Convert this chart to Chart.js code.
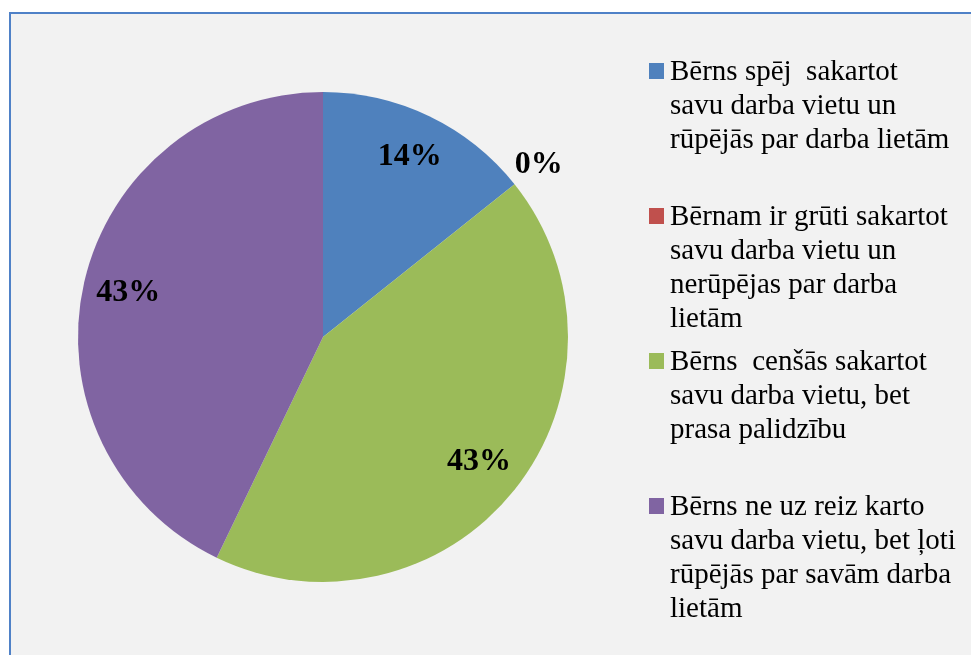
<!DOCTYPE html>
<html lang="lv">
<head>
<meta charset="UTF-8">
<title>Darba vietas sakārtošana</title>
<script src="https://cdn.jsdelivr.net/npm/chart.js"></script>
<style>
  html, body { margin: 0; padding: 0; background: #ffffff; overflow: hidden; }
  #frame {
    position: absolute; left: 9px; top: 12px; width: 1000px; height: 700px;
    background: #f2f2f2; border-left: 2px solid #4f81c7; border-top: 2px solid #4f81c7;
  }
  #wrap { position: absolute; left: 0; top: 0; width: 971px; height: 655px; }
  #legend { position: absolute; left: 0; top: 0; }
  .item { position: absolute; left: 649px; font: 29px "Liberation Serif", "Times New Roman", serif; color: #000; line-height: 34px; }
  .item .box { position: absolute; left: 0; top: 10px; width: 15px; height: 16px; }
  .item .txt { position: absolute; left: 21px; top: 0; white-space: pre; }
</style>
</head>
<body>
<div id="frame"></div>
<div id="wrap"><canvas id="pie" width="971" height="655"></canvas></div>
<div id="legend"></div>

<script>
// atbilžu kategorijas (leģendas rindas, kā attēlā)
const categories = [
  ["Bērns spēj  sakartot", "savu darba vietu un", "rūpējās par darba lietām"],
  ["Bērnam ir grūti sakartot", "savu darba vietu un", "nerūpējas par darba", "lietām"],
  ["Bērns  cenšās sakartot", "savu darba vietu, bet", "prasa palidzību"],
  ["Bērns ne uz reiz karto", "savu darba vietu, bet ļoti", "rūpējās par savām darba", "lietām"]
];
// bērnu skaits katrā kategorijā
const counts = [1, 0, 3, 3];
const colors = ["#4f81bd", "#c0504d", "#9bbb59", "#8064a2"];

const total = counts.reduce((a, b) => a + b, 0);

// procentu uzraksti uz sektoriem
const pctLabels = {
  id: "pctLabels",
  afterDatasetsDraw(chart) {
    const ctx = chart.ctx;
    const meta = chart.getDatasetMeta(0);
    ctx.save();
    ctx.font = "bold 32px 'Liberation Serif', 'Times New Roman', serif";
    ctx.fillStyle = "#000";
    ctx.textAlign = "center";
    ctx.textBaseline = "middle";
    meta.data.forEach((arc, i) => {
      const p = arc.getProps(["x", "y", "startAngle", "endAngle", "outerRadius"], true);
      const mid = (p.startAngle + p.endAngle) / 2;
      const r = counts[i] > 0 ? p.outerRadius * 0.815 : p.outerRadius + 31;
      const txt = Math.round(counts[i] / total * 100) + "%";
      ctx.fillText(txt, p.x + Math.cos(mid) * r, p.y + Math.sin(mid) * r);
    });
    ctx.restore();
  }
};

new Chart(document.getElementById("pie"), {
  type: "pie",
  data: {
    labels: categories.map(l => l.join(" ")),
    datasets: [{
      data: counts,
      backgroundColor: colors,
      borderWidth: 0
    }]
  },
  options: {
    responsive: false,
    animation: false,
    layout: { padding: { left: 78, right: 403, top: 92, bottom: 73 } },
    plugins: {
      legend: { display: false },
      tooltip: { enabled: false }
    }
  },
  plugins: [pctLabels]
});

// leģenda
const legend = document.getElementById("legend");
categories.forEach((lines, i) => {
  const item = document.createElement("div");
  item.className = "item";
  item.style.top = (53 + i * 145) + "px";
  const box = document.createElement("div");
  box.className = "box";
  box.style.background = colors[i];
  const txt = document.createElement("div");
  txt.className = "txt";
  txt.textContent = lines.join("\n");
  item.appendChild(box);
  item.appendChild(txt);
  legend.appendChild(item);
});
</script>
</body>
</html>
